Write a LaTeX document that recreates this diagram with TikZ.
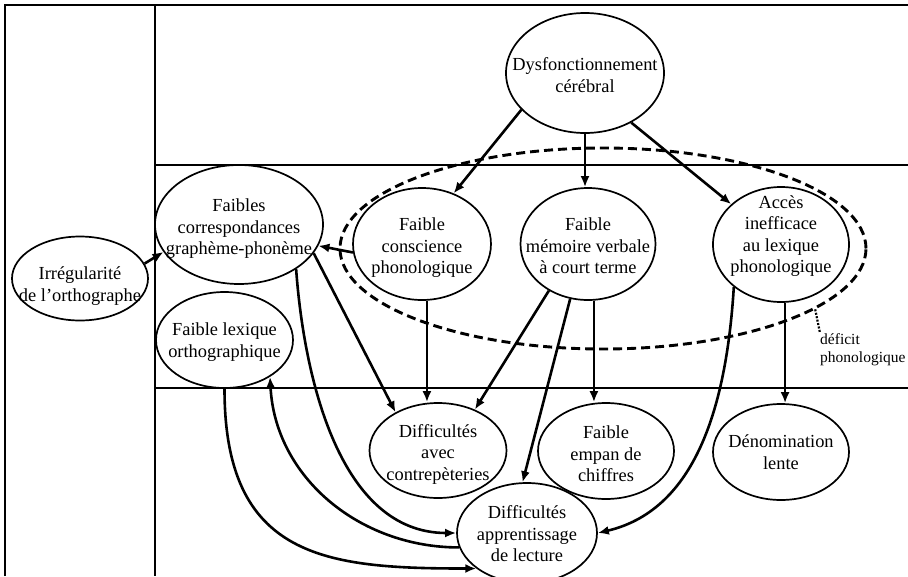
\documentclass[tikz,border=0pt]{standalone}
\usepackage{fontspec}
\setmainfont{Liberation Serif}
\usetikzlibrary{arrows.meta,shapes.geometric}
\begin{document}
\begin{tikzpicture}[x=1pt,y=-1pt,
  frame/.style={line width=1.6pt},
  oval/.style={draw, ellipse, line width=1.7pt, inner sep=0pt},
  txt/.style={align=center, inner sep=0pt, font=\fontsize{18.4}{21.5}\selectfont},
  arr/.style={line width=2.6pt, -{Latex[length=11pt,width=9pt]}},
  ]
\useasboundingbox (0,0) rectangle (908,576);
% frame
\draw[frame] (5,576) -- (5,5) -- (912,5);
\draw[frame] (155,5) -- (155,576);
\draw[frame] (155,165) -- (912,165);
\draw[frame] (155,388) -- (912,388);

% dashed region
\node[draw, ellipse, inner sep=0pt, minimum width=526pt, minimum height=201pt,
      line width=2.9pt, dash pattern=on 9pt off 5pt] (dph) at (603,248.5) {};
\node[anchor=north west, inner sep=0pt, align=left,
      font=\fontsize{15.5}{18}\selectfont] (def) at (820,333) {déficit\\phonologique};
\draw[line width=2.2pt, dash pattern=on 2pt off 1.5pt] (dph.-16.4) -- (def.north west);

% ovals
\node[oval, minimum width=158pt, minimum height=120pt] (dys) at (585,73) {};
\node[txt] (dyst) at (585,75) {Dysfonctionnement\\cérébral};

\node[oval, minimum width=136pt, minimum height=84pt] (irr) at (80,278.5) {};
\node[txt] (irrt) at (80,286) {Irrégularité\\de l’orthographe};

\node[oval, minimum width=168pt, minimum height=119pt] (fgp) at (239,224.5) {};
\node[txt] (fgpt) at (239,229) {Faibles\\correspondances\\graphème-phonème};

\node[oval, minimum width=138pt, minimum height=112pt] (fcp) at (422,244) {};
\node[txt] (fcpt) at (422,248) {Faible\\conscience\\phonologique};

\node[oval, minimum width=135pt, minimum height=112pt] (fmv) at (588,244) {};
\node[txt] (fmvt) at (588,246) {Faible\\mémoire verbale\\à court terme};

\node[oval, minimum width=136pt, minimum height=115pt] (aip) at (781,244.5) {};
\node[txt] (aipt) at (781,236) {Accès\\inefficace\\au lexique\\phonologique};

\node[oval, minimum width=137pt, minimum height=96pt] (flo) at (224.5,340) {};
\node[txt] (flot) at (224.5,342) {Faible lexique\\orthographique};

\node[oval, minimum width=137pt, minimum height=95pt] (dac) at (438,450.5) {};
\node[txt] (dact) at (438,454) {Difficultés\\avec\\contrepèteries};

\node[oval, minimum width=136pt, minimum height=96pt] (fec) at (606,451) {};
\node[txt] (fect) at (606,454) {Faible\\empan de\\chiffres};

\node[oval, minimum width=136pt, minimum height=96pt] (dl) at (781,452) {};
\node[txt] (dlt) at (781,452) {Dénomination\\lente};

\node[oval, minimum width=140pt, minimum height=100pt] (dal) at (527,533) {};
\node[txt] (dalt) at (527,534) {Difficultés\\apprentissage\\de lecture};

% connectors
\draw[arr] (dys.210) -- (fcp.58);
\draw[arr] (dys.south) -- (dys.south |- fmv.north);
\draw[arr] (dys.313) -- (aip.141);
\draw[arr] (fcp.187) -- (fgp.345);
\draw[arr] (irr.13) -- (fgp.200);
\draw[arr] (fgp.339) -- (dac.138);
\draw[arr] (fgp.322) .. controls +(8,110) and +(-116,0) .. (dal.180);
\draw[arr] (fcp.-85) -- (fcp.-85 |- dac.north);
\draw[arr] (fmv.230) -- (dac.48);
\draw[arr] (fmv.252) -- (dal.95);
\draw[arr] (fmv.-84) -- (fmv.-84 |- fec.north);
\draw[arr] (aip.222) .. controls +(-8,130) and +(93,-22) .. (dal.0);
\draw[arr] (aip.-86) -- (aip.-86 |- dl.north);
\draw[arr] (flo.south) .. controls +(0,170) and +(-150,0) .. (dal.215);
\draw[arr] (dal.192) .. controls +(-100,0) and +(5,100) .. (flo.321);
\end{tikzpicture}
\end{document}
